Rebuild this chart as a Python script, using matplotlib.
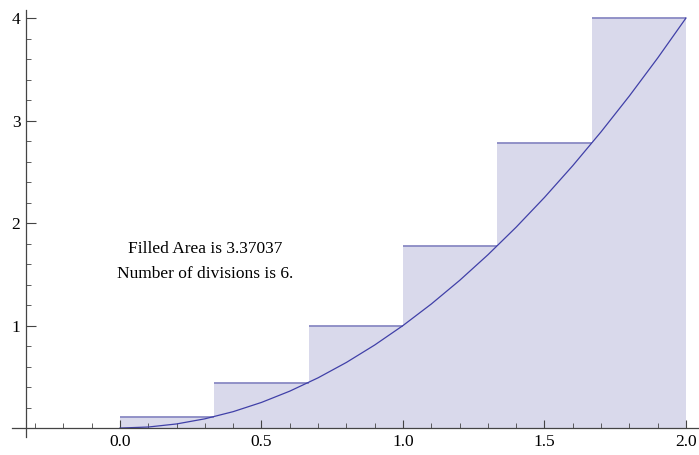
import matplotlib
matplotlib.use("Agg")
import matplotlib.pyplot as plt
from matplotlib.ticker import FixedLocator

# right-endpoint rectangles, 6 divisions on [0, 2]
left_edges = [0.0, 1/3, 2/3, 1.0, 4/3, 5/3]
heights = [0.111, 0.444, 1.0, 1.778, 2.778, 4.0]
width = 1/3

# curve
curve_x = [0.0, 0.1, 0.2, 0.3, 0.4, 0.5, 0.6, 0.7, 0.8, 0.9, 1.0,
           1.1, 1.2, 1.3, 1.4, 1.5, 1.6, 1.7, 1.8, 1.9, 2.0]
curve_y = [0.0, 0.01, 0.04, 0.09, 0.16, 0.25, 0.36, 0.49, 0.64, 0.81, 1.0,
           1.21, 1.44, 1.69, 1.96, 2.25, 2.56, 2.89, 3.24, 3.61, 4.0]

x_ticks = [0.0, 0.5, 1.0, 1.5, 2.0]
x_labels = ["0.0", "0.5", "1.0", "1.5", "2.0"]
x_minor = [-0.3, -0.2, -0.1, 0.1, 0.2, 0.3, 0.4, 0.6, 0.7, 0.8, 0.9,
           1.1, 1.2, 1.3, 1.4, 1.6, 1.7, 1.8, 1.9]
y_ticks = [1, 2, 3, 4]
y_minor = [0.2, 0.4, 0.6, 0.8, 1.2, 1.4, 1.6, 1.8, 2.2, 2.4, 2.6, 2.8,
           3.2, 3.4, 3.6, 3.8]

note_lines = ["Filled Area is 3.37037", "Number of divisions is 6."]

plt.rcParams['font.family'] = ['Liberation Serif', 'DejaVu Serif']

fig = plt.figure(figsize=(6.99, 4.55), dpi=100)
ax = fig.add_axes([0, 0, 1, 1])
ax.set_facecolor('white')
ax.set_xlim(-0.424, 2.046)
ax.set_ylim(-0.263, 4.176)

fill_col = '#d9d9eb'
top_col = '#8a8ac4'
line_col = '#4040a8'

ax.bar(left_edges, heights, width=width, align='edge', color=fill_col,
       edgecolor='none', zorder=1)
ax.hlines(heights, left_edges, [l + width for l in left_edges],
          colors=top_col, lw=1.3, zorder=2)
ax.plot(curve_x, curve_y, color=line_col, lw=0.9, zorder=3)

for s in ['top', 'right']:
    ax.spines[s].set_visible(False)
ax.spines['left'].set_position(('data', -0.332))
ax.spines['bottom'].set_position(('data', 0))
ax.spines['left'].set_bounds(-0.09, 4.08)
ax.spines['bottom'].set_bounds(-0.38, 2.046)
for s in ['left', 'bottom']:
    ax.spines[s].set_color('#444444')
    ax.spines[s].set_linewidth(0.9)
    ax.spines[s].set_zorder(4)

ax.xaxis.set_major_locator(FixedLocator(x_ticks))
ax.set_xticklabels(x_labels)
ax.xaxis.set_minor_locator(FixedLocator(x_minor))
ax.yaxis.set_major_locator(FixedLocator(y_ticks))
ax.yaxis.set_minor_locator(FixedLocator(y_minor))

ax.tick_params(axis='both', which='major', direction='in', length=6,
               width=0.8, color='#444444', labelsize=12.5, pad=4)
ax.tick_params(axis='both', which='minor', direction='in', length=3.5,
               width=0.6, color='#444444')
ax.tick_params(axis='y', which='major', length=7, pad=4)

ax.text(0.302, 1.747, note_lines[0], ha='center', va='center', fontsize=12.5)
ax.text(0.302, 1.503, note_lines[1], ha='center', va='center', fontsize=12.5)

fig.savefig('out.png', dpi=100)
